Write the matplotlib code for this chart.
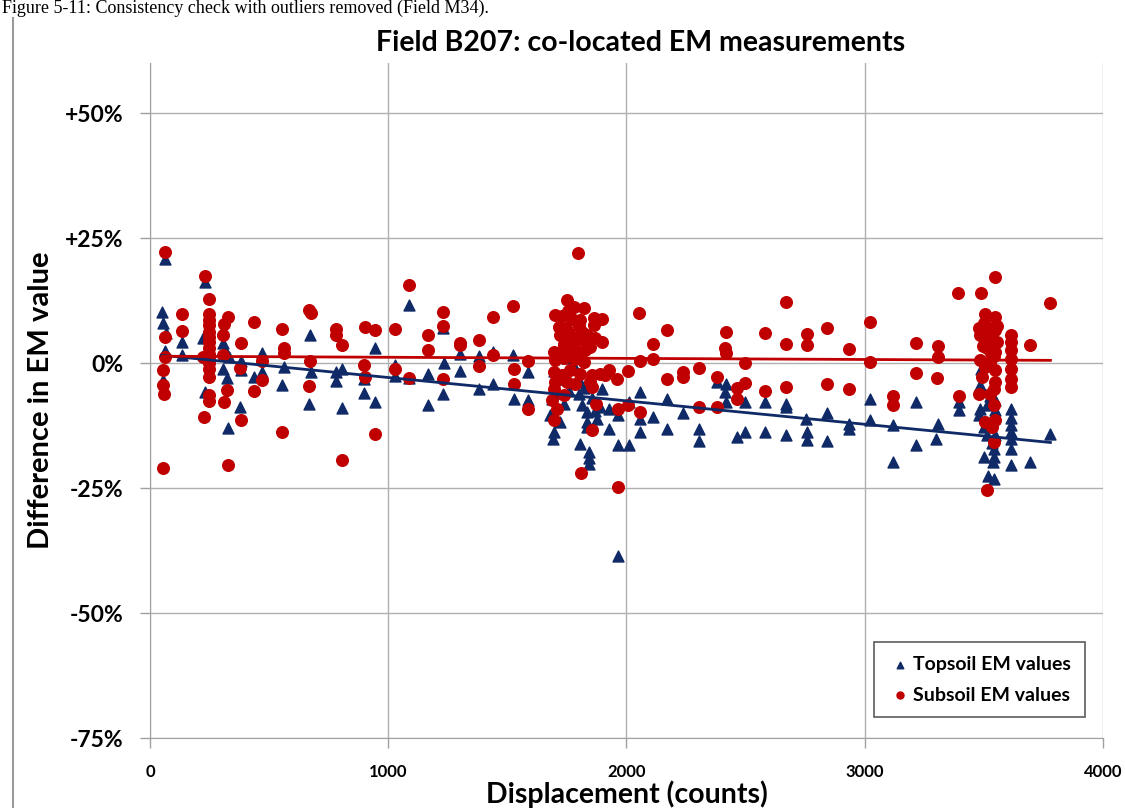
import numpy as np
import matplotlib
matplotlib.use("Agg")
import matplotlib.pyplot as plt
from matplotlib.ticker import FuncFormatter
from matplotlib.lines import Line2D

# Topsoil EM values: displacement (counts), difference (%)
top_x = [63, 49, 53, 67, 63, 53, 133, 133, 231, 224, 231, 248, 308, 315, 333, 308, 325, 329,
         381, 381, 378, 469, 469, 438, 553, 563, 672, 675, 669,
         781, 781, 808, 808, 945, 900, 900, 945, 1029, 1029, 1088, 1088, 1166, 1166, 1232, 1236,
         1232, 1302, 1302, 1382, 1382, 1442, 1442, 1526, 1530, 1586, 1586,
         1771, 1771, 1736, 1806, 1897, 1687, 1736, 1799, 1813, 1834, 1890, 1929, 1963, 1680, 1722,
         1834, 1876, 1694, 1690, 1834, 1925, 1806, 1841, 1841, 1845, 1963, 2009, 2009, 2058, 2058,
         2058, 2110, 2170, 2170, 2236, 2306, 2306, 2380, 1966,
         1694, 1750, 1785, 1820, 1760, 1715, 1855, 1870,
         2419, 2415, 2419, 2464, 2499, 2499, 2583, 2583, 2671, 2671, 2668, 2754, 2758, 2758, 2842,
         2842, 2936, 2933, 3024, 3024, 3119, 3119,
         3216, 3216, 3307, 3301, 3395, 3395, 3490, 3486, 3486, 3479, 3514, 3549, 3549, 3500, 3514,
         3549, 3542, 3542, 3503, 3538, 3517, 3545, 3616, 3616, 3616, 3616, 3616, 3616, 3616, 3696,
         3780, 3493, 3528, 3542, 3535]
top_y = [20.9, 10.3, 8.1, 6.1, 2.4, -3.4, 4.3, 1.6, 16.3, 5.1, -5.7, 2.3, 4.1, 2.6, 1.3, -1.1, -2.9, -12.9,
         0.4, -1.3, -8.7, 2.0, -1.7, -2.7, -4.4, -0.7, 5.6, -1.7, -8.1,
         -1.7, -3.5, -1.1, -8.9, 3.1, -3.1, -5.9, -7.7, -0.4, -2.6, 11.7, -2.9, -2.1, -8.4, 7.1, 0.1,
         -6.2, 1.8, -1.5, 1.5, -5.1, 2.3, -4.1, 1.6, -7.1, -1.7, -7.3,
         8.9, -0.1, -3.1, -3.7, -5.1, -7.1, -8.1, -6.1, -8.4, -9.7, -8.7, -9.1, -10.4, -10.4, -11.7,
         -11.7, -11.1, -13.7, -15.2, -12.7, -13.1, -16.1, -17.7, -18.9, -20.1, -16.3, -16.4, -7.7, -5.7, -11.1,
         -13.7, -10.7, -7.1, -13.1, -9.9, -13.1, -15.6, -3.7, -38.6,
         -1.5, 1.0, -1.0, -5.0, -5.5, -6.0, -7.0, -9.5,
         -4.1, -5.7, -7.7, -14.7, -7.7, -13.7, -7.7, -13.7, -8.1, -8.7, -14.4, -11.2, -13.7, -15.4, -9.9,
         -15.5, -12.1, -13.1, -7.1, -11.4, -12.4, -19.7,
         -7.7, -16.3, -12.1, -15.1, -7.7, -9.4, -1.1, -4.4, -9.1, -10.4, -8.4, -7.4, -9.4, -12.7, -14.4,
         -14.4, -17.1, -18.7, -18.7, -19.7, -22.5, -23.1, -9.1, -11.0, -12.4, -13.7, -15.1, -17.1, -20.3, -19.7,
         -14.1, -5.5, -6.5, -11.0, -16.0]

# Subsoil EM values
sub_x = [63, 133, 133, 63, 63, 53, 53, 59, 53, 231, 248, 248, 248, 248, 248, 248, 248, 248, 248,
         248, 248, 248, 248, 221, 248, 248, 225, 329, 312, 308, 308, 325, 312, 329, 381, 378, 381,
         438, 438, 469, 469, 553, 563, 563, 553, 668, 675, 672, 669,
         781, 781, 808, 808, 903, 945, 900, 903, 945, 1029, 1029, 1088, 1088, 1166, 1166, 1232, 1232,
         1232, 1302, 1302, 1382, 1382, 1442, 1442, 1526, 1530, 1530, 1586, 1586,
         1795, 1750, 1778, 1820, 1701, 1729, 1771, 1806, 1865, 1897, 1865, 1715, 1722, 1757, 1792,
         1834, 1869, 1897, 1694, 1736, 1778, 1827, 1848, 1701, 1736, 1785, 1820, 1694, 1729, 1764,
         1806, 1855, 1890, 1929, 1960, 1701, 1750, 1785, 1848, 1911, 1694, 1736, 1855, 1687, 1708,
         1694, 1872, 1855, 1809, 1963, 1963, 2006, 2006, 2058, 2053, 2058, 2110, 2110, 2170, 2170,
         2236, 2236, 2306, 2306, 2380, 2380,
         1745, 1760, 1785, 1800, 1815, 1740, 1770, 1795, 1830, 1755,
         2419, 2415, 2419, 2464, 2464, 2499, 2499, 2583, 2583, 2671, 2668, 2668, 2758, 2758, 2842,
         2842, 2936, 2933, 3024, 3024, 3119, 3119,
         3216, 3216, 3307, 3307, 3304, 3392, 3395, 3490, 3549, 3504, 3549, 3479, 3514, 3549, 3486,
         3528, 3556, 3514, 3549, 3486, 3528, 3507, 3549, 3493, 3549, 3542, 3479, 3528, 3542, 3507,
         3549, 3535, 3542, 3514, 3616, 3616, 3616, 3616, 3616, 3616, 3616, 3696, 3780,
         3500, 3520, 3540, 3495, 3530, 3555, 3510, 3545]
sub_y = [22.3, 9.9, 6.5, 5.3, 1.3, -1.4, -4.4, -6.2, -21.0, 17.5, 12.8, 9.9, 8.6, 7.6, 6.3, 5.3, 4.3, 3.0, 1.9,
         1.0, 0.0, -1.1, -2.7, 1.3, -6.4, -7.5, -10.7, 9.3, 7.9, 5.7, 1.6, -5.4, -7.7, -20.4, 4.1, -0.9, -11.3,
         8.3, -5.6, 0.4, -3.4, 6.9, 3.1, 2.0, -13.7, 10.6, 10.1, 0.4, -4.5,
         6.8, 5.7, 3.6, -19.3, 7.3, 6.7, -0.4, -2.7, -14.2, 6.9, -1.2, 15.6, -2.9, 5.6, 2.7, 10.3, 7.5,
         -3.1, 4.1, 3.6, 4.6, -0.6, 9.3, 1.6, 11.5, -1.2, -4.1, 0.4, -9.1,
         22.1, 12.6, 11.3, 11.1, 9.6, 9.5, 8.9, 8.6, 9.1, 8.9, 7.7, 7.3, 5.6, 5.6, 5.0,
         5.6, 5.0, 4.3, 2.3, 3.3, 3.0, 2.6, 3.3, 0.6, 1.0, 0.8, 0.3, -1.7, -2.4, -1.4,
         -2.1, -2.4, -2.1, -1.4, -3.1, -3.7, -3.7, -4.1, -3.7, -2.4, -5.1, -6.4, -4.7, -7.4, -9.1,
         -11.4, -8.1, -13.4, -21.9, -24.7, -9.1, -1.6, -8.4, -9.7, 10.1, 0.4, 3.8, 0.8, 6.6, -3.1,
         -1.7, -2.7, -0.9, -8.7, -2.7, -8.7,
         7.0, 6.0, 4.5, 7.5, 6.2, 3.8, 2.0, 1.5, 4.0, 10.5,
         6.3, 3.0, 2.0, -4.9, -7.2, 0.1, -3.9, 6.1, -5.5, 12.3, 3.9, -4.7, 5.8, 3.6, 7.1,
         -4.1, 2.9, -5.2, 8.3, 0.3, -6.5, -8.4,
         4.1, -1.9, 3.5, 1.3, -2.9, 14.1, -6.5, 14.1, 17.3, 9.9, 9.3, 7.1, 7.3, 6.6, 5.6,
         5.3, 4.3, 3.0, 2.3, 0.6, 0.3, -0.7, -1.4, -2.7, -3.7, -5.1, -6.1, -6.1, -8.4, -11.7,
         -11.4, -12.7, -15.7, -25.4, 5.7, 4.3, 2.6, 0.8, -1.1, -3.1, -4.7, 3.7, 12.1,
         8.0, 6.0, 4.0, 3.5, 2.0, 7.5, 5.0, 1.5]

top_x = np.array(top_x, dtype=float)
top_y = np.array(top_y) / 100.0
sub_x = np.array(sub_x, dtype=float)
sub_y = np.array(sub_y) / 100.0

blue = '#0f2a66'
red = '#c00000'
font = 'Lato'

fig = plt.figure(figsize=(11.25, 8.08), dpi=100)
ax = fig.add_axes([0.1333, 0.0866, 0.847, 0.835])

ax.scatter(top_x, top_y, marker='^', s=62, c=blue, zorder=3, label='Topsoil EM values')
ax.scatter(sub_x, sub_y, marker='o', s=70, c=red, zorder=3, label='Subsoil EM values')

# linear trendlines
for xs, ys, col in [(top_x, top_y, blue), (sub_x, sub_y, red)]:
    k, b = np.polyfit(xs, ys, 1)
    xx = np.array([xs.min(), xs.max()])
    ax.plot(xx, k * xx + b, color=col, lw=2, zorder=4)

ax.set_xlim(0, 4000)
ax.set_ylim(-0.75, 0.6)
ax.set_xticks([0, 1000, 2000, 3000, 4000])
ax.set_yticks([-0.75, -0.5, -0.25, 0, 0.25, 0.5])
ax.yaxis.set_major_formatter(FuncFormatter(
    lambda v, p: '0%' if abs(v) < 1e-9 else ('+%d%%' % round(v * 100) if v > 0 else '%d%%' % round(v * 100))))
ax.grid(True, color='#b0b0b0', lw=1)
ax.set_axisbelow(True)
for s in ['top', 'right']:
    ax.spines[s].set_visible(False)
for s in ['left', 'bottom']:
    ax.spines[s].set_color('#a0a0a0')
ax.tick_params(axis='both', color='#a0a0a0', length=7, width=1)
for lab in ax.get_yticklabels():
    lab.set_fontfamily(font)
    lab.set_fontweight('bold')
    lab.set_fontsize(16.5)
for lab in ax.get_xticklabels():
    lab.set_fontfamily(font)
    lab.set_fontweight('bold')
    lab.set_fontsize(12)
ax.tick_params(axis='x', pad=12)
ax.tick_params(axis='y', pad=12)

ax.set_title('Field B207: co-located EM measurements', fontfamily=font, fontweight='bold',
             fontsize=20.5, pad=9, x=0.515)
ax.set_xlabel('Displacement (counts)', fontfamily=font, fontweight='bold', fontsize=20.5, labelpad=0)
ax.set_ylabel('Difference in EM value', fontfamily=font, fontweight='bold', fontsize=21, labelpad=8)

leg = ax.legend(loc='lower right', bbox_to_anchor=(0.981, 0.031), borderaxespad=0,
                frameon=True, fancybox=False,
                prop={'family': font, 'weight': 'bold', 'size': 14}, handletextpad=0.1,
                borderpad=0.7, labelspacing=0.7, handlelength=1.2, markerscale=0.6)
leg.get_frame().set_edgecolor('#333333')
leg.get_frame().set_linewidth(1.2)

# page caption and page border line
fig.text(0.002, 1 - 13 / 808, 'Figure 5-11: Consistency check with outliers removed (Field M34).',
         fontfamily='Liberation Serif', fontsize=13, va='baseline', ha='left')
fig.add_artist(Line2D([13 / 1125, 13 / 1125], [0, 1 - 18 / 808], color='#9a9a9a', lw=1.5))

fig.savefig('out.png', dpi=100)
